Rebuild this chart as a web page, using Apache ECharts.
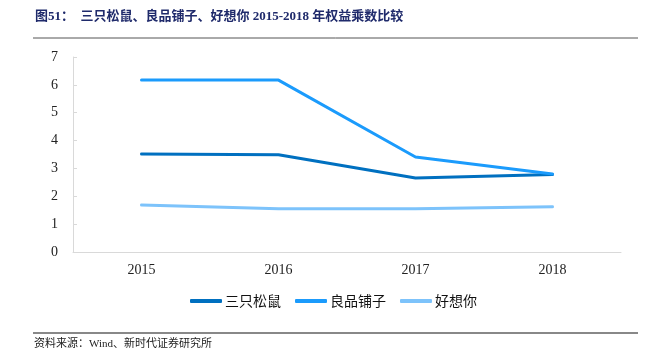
<!DOCTYPE html>
<html><head><meta charset="utf-8">
<script src="https://cdn.jsdelivr.net/npm/echarts@6/dist/echarts.min.js"></script>
<style>html,body{margin:0;padding:0;background:#fff}#c{width:667px;height:353px}</style>
</head><body><div id="c"></div>
<script>
const categories = ['2015', '2016', '2017', '2018'];
const yTicks = [0, 1, 2, 3, 4, 5, 6, 7];
const seriesNames = ['三只松鼠', '良品铺子', '好想你'];
const sanzhi = [3.52, 3.49, 2.66, 2.78];
const liangpin = [6.17, 6.17, 3.41, 2.80];
const haoxiangni = [1.69, 1.55, 1.55, 1.62];
const colors = ['#0070C0', '#1B9BFC', '#7DC3FB'];

const chart = echarts.init(document.getElementById('c'));
const serif = '"Liberation Serif","Times New Roman","Noto Sans CJK SC",serif';
chart.setOption({
  animation: false,
  grid: { left: 73, right: 46, top: 57, bottom: 101 },
  xAxis: {
    type: 'category', data: categories, boundaryGap: true,
    axisLine: { lineStyle: { color: '#d9d9d9' } },
    axisTick: { show: false },
    axisLabel: { color: '#222', fontFamily: serif, fontSize: 14, margin: 11 }
  },
  yAxis: {
    type: 'value', min: yTicks[0], max: yTicks[yTicks.length - 1], interval: 1,
    axisLine: { show: true, lineStyle: { color: '#d9d9d9' } },
    axisTick: { show: true, inside: true, length: 4, lineStyle: { color: '#d9d9d9' } },
    splitLine: { show: false },
    axisLabel: { color: '#222', fontFamily: serif, fontSize: 14, margin: 15 }
  },
  legend: {
    bottom: 40, left: 'center', itemWidth: 32, itemHeight: 4, itemGap: 14,
    icon: 'roundRect',
    textStyle: { color: '#111', fontFamily: '"Noto Sans CJK SC",sans-serif', fontSize: 14, padding: [0, 0, 0, -2] },
    data: seriesNames
  },
  series: [
    { name: seriesNames[0], type: 'line', data: sanzhi, color: colors[0], symbol: 'none', lineStyle: { width: 3, cap: 'round' } },
    { name: seriesNames[1], type: 'line', data: liangpin, color: colors[1], symbol: 'none', lineStyle: { width: 3, cap: 'round' } },
    { name: seriesNames[2], type: 'line', data: haoxiangni, color: colors[2], symbol: 'none', lineStyle: { width: 3, cap: 'round' } }
  ],
  graphic: [
    { type: 'text', left: 35, top: 10, style: { text: '图51：  三只松鼠、良品铺子、好想你 2015-2018 年权益乘数比较', fill: '#1F2A6B', font: 'bold 13px "Liberation Serif","Noto Sans CJK SC",serif' } },
    { type: 'line', shape: { x1: 33, y1: 38, x2: 638, y2: 38 }, style: { stroke: '#555', lineWidth: 1 } },
    { type: 'line', shape: { x1: 33, y1: 333, x2: 638, y2: 333 }, style: { stroke: '#888', lineWidth: 2 } },
    { type: 'text', left: 34, top: 339, style: { text: '资料来源：Wind、新时代证券研究所', fill: '#222', font: '11px "Liberation Serif","Noto Sans CJK SC",serif' } }
  ]
});
</script></body></html>
